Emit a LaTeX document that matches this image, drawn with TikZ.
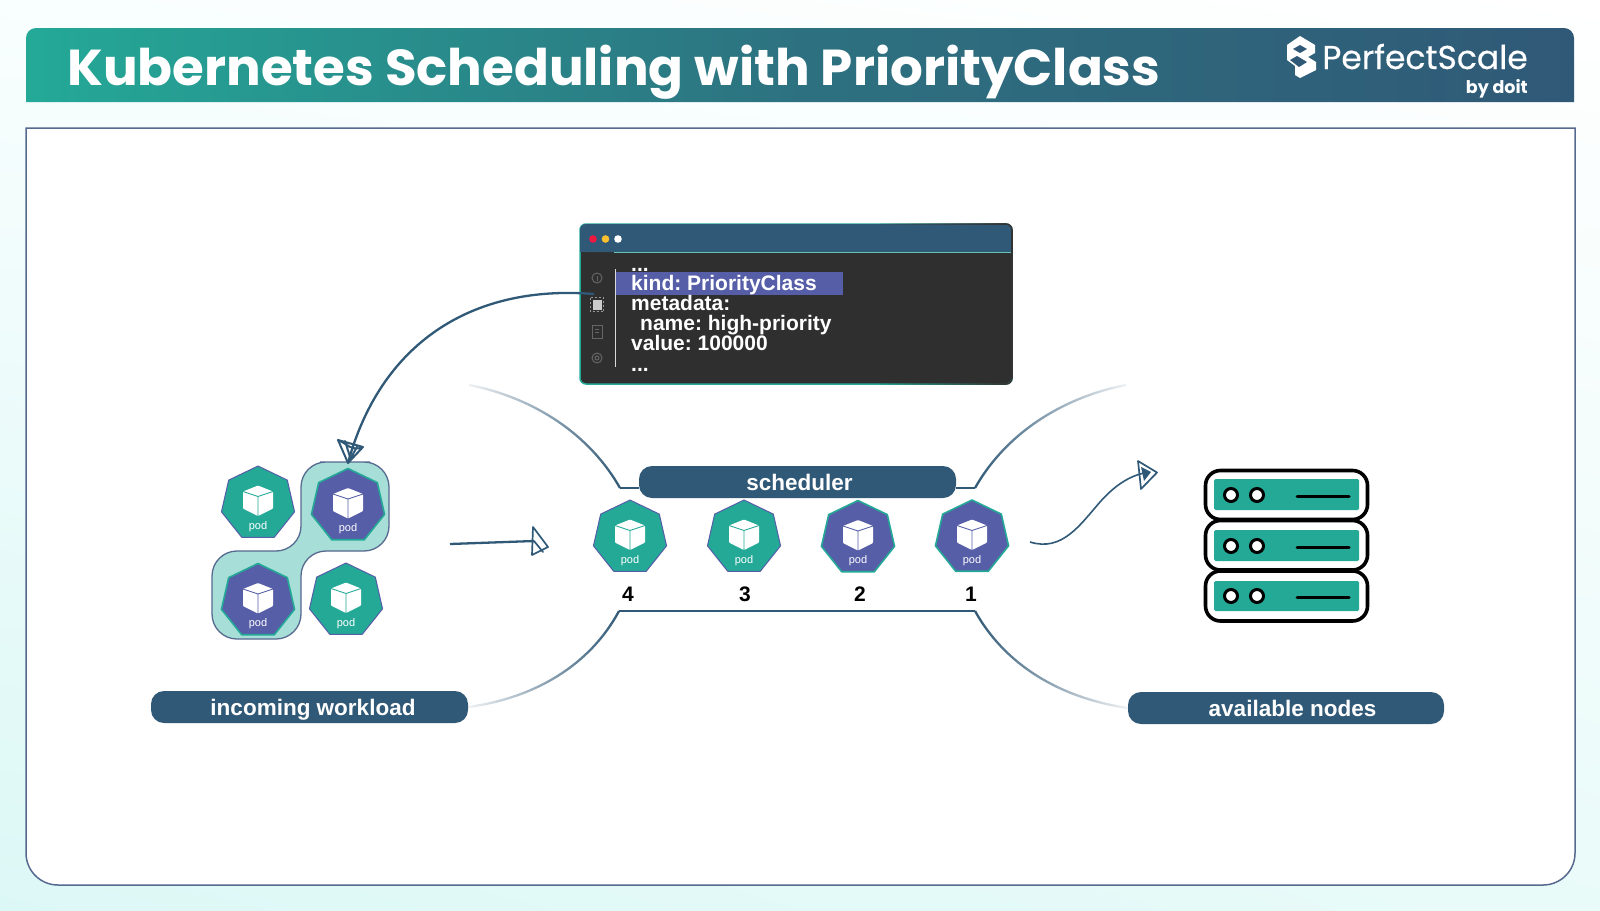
\documentclass[tikz,border=0pt]{standalone}
\usepackage{fontspec}
\usetikzlibrary{shapes.geometric,fadings,shadings}
\setmainfont{Liberation Sans}
\newfontfamily\titlef{Poppins}
\newfontfamily\logof[FakeBold=0.4]{Poppins}
\definecolor{navy}{HTML}{305977}
\definecolor{tealc}{HTML}{24A997}
\definecolor{purp}{HTML}{565EA8}
\definecolor{panelb}{HTML}{56698F}
\definecolor{blob}{HTML}{A7DED7}
\definecolor{codebg}{HTML}{2F2F2F}
\definecolor{icong}{HTML}{666666}
\definecolor{bgul}{HTML}{F9FEFE}
\definecolor{bgll}{HTML}{DCF8F6}
\definecolor{bglr}{HTML}{E9FBF9}
\definecolor{hdrm}{HTML}{2D7180}
\definecolor{redd}{HTML}{F0183F}
\definecolor{yell}{HTML}{FBC02D}
\tikzfading[name=fadel, left color=transparent!93, right color=transparent!0]
\tikzfading[name=fader, left color=transparent!0, right color=transparent!93]
\tikzset{
  podt/.style={regular polygon, regular polygon sides=7, minimum size=75pt, inner sep=0pt, outer sep=0pt, fill=tealc, draw=purp, line width=1pt, line join=round},
  podp/.style={regular polygon, regular polygon sides=7, minimum size=75pt, inner sep=0pt, outer sep=0pt, fill=purp, draw=tealc, line width=1.6pt, line join=round},
  podtxt/.style={font=\fontsize{11}{11}\selectfont, text=white, inner sep=0pt},
  pill/.style={rectangle, rounded corners=13pt, fill=navy, text=white, inner sep=0pt, minimum height=32pt, text height=20pt, text depth=4pt, font=\fontsize{22.5}{24}\selectfont\bfseries},
  numb/.style={font=\fontsize{21}{21}\selectfont\bfseries, text=black, inner sep=0pt},
  codet/.style={anchor=base west, inner sep=0pt, text=white, font=\fontsize{21}{21}\selectfont\bfseries\frenchspacing},
  wire/.style={draw=navy, line width=2.3pt},
  sketch/.style={draw=navy, line width=1.7pt, line join=round, line cap=round},
  srv/.style={draw=black, line width=3.6pt, rounded corners=15pt, outer sep=0pt},
  sico/.style={draw=icong, line width=1pt}
}
\newcommand{\podicon}[5]{% name x y style colour
  \node[#4] (#1) at (#2,#3) {};
  \begin{scope}[shift={(#2,#3)}]
    \fill[white,rounded corners=.8pt] (0,-18)--(15,-12)--(15,5)--(0,12.5)--(-15,5)--(-15,-12)--cycle;
    \draw[#5,line width=.9pt] (-15,-12)--(0,-7)--(15,-12) (0,-7)--(0,12.5);
  \end{scope}
  \node[podtxt] (#1t) at (#2,#3+23) {pod};
}
\begin{document}
\begin{tikzpicture}[x=1pt,y=-1pt]
\useasboundingbox (0,0) rectangle (1600,910);
\shade[upper left=bgul, upper right=white, lower left=bgll, lower right=bglr] (0,0) rectangle (1600,910);

% header
\shade[left color=tealc, right color=navy, middle color=hdrm]
  (26,102) -- (26,38) .. controls (26,32.5) and (30.5,28) .. (36,28) -- (1564,28) .. controls (1569.5,28) and (1574,32.5) .. (1574,38) -- (1574,102) -- cycle;
\node[anchor=base west, inner sep=0pt, text=white, font=\titlef\fontsize{50.5}{52}\selectfont\bfseries] (title) at (67,85) {\scalebox{1.019}[1]{Kubernetes Scheduling with PriorityClass}};

% logo
\fill[white,line join=round] (1300,36) -- (1315,45) -- (1315,53) -- (1308,57) -- (1316,62) -- (1316,70) -- (1300,78) -- (1295,75) -- (1295,66) -- (1287,60) -- (1287,45) -- cycle;
\fill[navy] (1293,49) -- (1300,45) -- (1307,49) -- (1300,53) -- cycle;
\fill[navy] (1290,60) -- (1297,56) -- (1307,62) -- (1299,67) -- cycle;
\node[anchor=base east, inner sep=0pt, text=white, font=\logof\fontsize{33}{33}\selectfont] (ps) at (1528,69) {PerfectScale};
\node[anchor=base east, inner sep=0pt, text=white, font=\titlef\fontsize{17.5}{18}\selectfont\bfseries] (byd) at (1528,93) {by doit};

% panel
\draw[fill=white, draw=panelb, line width=1.5pt] (26,128) -- (1575,128) -- (1575,853) .. controls (1575,870.7) and (1560.7,885) .. (1543,885) -- (58,885) .. controls (40.3,885) and (26,870.7) .. (26,853) -- cycle;

% frame lines around scheduler
\node[pill, minimum width=317pt] (sched) at (797.5,482) {\hspace*{4pt}scheduler};
\node[pill, minimum width=317pt] (incoming) at (309.5,707) {\hspace*{7pt}incoming workload};
\node[pill, minimum width=316pt] (avail) at (1286,708) {\hspace*{13pt}available nodes};
\coordinate (tl) at (620,488);
\coordinate (tr) at (975,488);
\coordinate (bl) at (619,611);
\coordinate (br) at (975,611);
\coordinate (tlo) at (469,385);
\coordinate (tro) at (1126,385);
\draw[wire] (tl) -- (sched.west |- tl);
\draw[wire] (tr) -- (sched.east |- tr);
\draw[wire] (bl) -- (br);
\draw[wire, path fading=fadel] (tlo) .. controls (535,398) and (590,435) .. (tl);
\draw[wire, path fading=fader] (tr) .. controls (1005,435) and (1060,398) .. (tro);
\draw[wire, path fading=fadel] (incoming.east) .. controls (535,698) and (590,665) .. (bl);
\draw[wire, path fading=fader] (br) .. controls (1005,665) and (1060,698) .. (avail.west);

% incoming workload group
\draw[fill=blob, draw=panelb, line width=1.3pt, rounded corners=25pt] (345,462) -- (389,462) -- (389,551) -- (301,551) -- (301,639) -- (212,639) -- (212,551) -- (301,551) -- (301,462) -- cycle;
\podicon{pa}{258}{503.5}{podt}{tealc}
\podicon{pb}{348}{506}{podp}{purp}
\podicon{pc}{258}{601}{podp}{purp}
\podicon{pd}{346}{600.5}{podt}{tealc}

% queue
\podicon{q4}{630}{537.5}{podt}{tealc}
\podicon{q3}{744}{537.5}{podt}{tealc}
\podicon{q2}{858}{538}{podp}{purp}
\podicon{q1}{972}{537.5}{podp}{purp}
\node[numb] (n4) at (628,594) {4};
\node[numb] (n3) at (745,594) {3};
\node[numb] (n2) at (860,594) {2};
\node[numb] (n1) at (971,594) {1};

% code window
\node[rectangle, rounded corners=6pt, fill=codebg, draw=tealc, line width=1.5pt, minimum width=432pt, minimum height=160pt, inner sep=0pt] (win) at (796,304) {};
\fill[navy, rounded corners=6pt] (580,224) rectangle (1012,252);
\fill[navy] (580,240) rectangle (1012,252);
\draw[black!80, line width=1.6pt, rounded corners=6pt, path fading=fadel] (880,224) -- (1012,224) -- (1012,384) -- (880,384);
\draw[tealc!70!white,line width=1.5pt] (614,252.5) -- (1011,252.5);
\fill[redd] (593,239) circle (3.8pt);
\fill[yell] (605.5,239) circle (3.8pt);
\fill[white] (618,239) circle (3.8pt);
\fill[purp] (616,272) rectangle (843,295);
\draw[white!85!black,line width=1pt] (615.5,269) -- (615.5,367);
\node[codet] (c0) at (631,271) {...};
\node[codet] (c1) at (631,290) {kind: PriorityClass};
\node[codet] (c2) at (631,310) {metadata:};
\node[codet] (c3) at (640,330) {name: high-priority};
\node[codet] (c4) at (631,350) {value: 100000};
\node[codet] (c5) at (631,371) {...};
% side icons
\draw[sico] (597,278) circle (5pt);
\draw[sico] (597,276) -- (597,281);
\fill[white!80!black] (592.5,299.5) rectangle (601.5,309.5);
\draw[white!60!black,line width=1pt,dash pattern=on 2pt off 2pt] (590.5,297.5) rectangle (603.5,311.5);
\draw[sico] (592,325) rectangle (602,338);
\draw[sico] (595,329) -- (599,329) (595,332) -- (599,332);
\draw[sico] (597,358) circle (5pt);
\draw[sico] (597,358) circle (2pt);

% arrows
\coordinate (a1s) at (594,294);
\coordinate (a1e) at (348,463);
\draw[wire] (a1s) .. controls (470,284) and (380,345) .. (a1e);
\draw[sketch,line width=2pt] (338,440) -- (363,447) -- (a1e) -- cycle (338,440) .. controls (346,443) and (352,452) .. (363,447) (345,441) -- (351,460) (357,447) -- (349,461);

\coordinate (a2s) at (450,544);
\coordinate (a2e) at (548,547);
\draw[wire] (a2s) -- (534,541);
\draw[sketch] (533,527) -- (a2e) -- (532,555) -- cycle (534,541) -- (543,552);

\coordinate (a3s) at (1030,542);
\coordinate (a3e) at (1157,472.5);
\draw[draw=navy,line width=1.6pt] (a3s) .. controls (1062,552) and (1080,525) .. (1100,502) .. controls (1115,485) and (1130,476) .. (1144,473);
\fill[navy] (1141,467) -- (1151,472) -- (1144,481) -- cycle;
\draw[sketch] (1138,461) -- (a3e) -- (1141,489) -- cycle;

% servers
\foreach \nm/\ya/\yb/\ti/\tb/\cy/\ly in {sa/470.5/519.5/479/510/495/496.5, sb/520.5/570/530/561/546/547, sc/571/621/581/611/596/597}{
  \fill[tealc, rounded corners=1.5pt] (1214,\ti) rectangle (1359,\tb);
  \draw[black,line width=3pt,line cap=round] (1297,\ly) -- (1349,\ly);
  \draw[black,fill=white,line width=3pt] (1231,\cy) circle (6.5pt);
  \draw[black,fill=white,line width=3pt] (1257,\cy) circle (6.5pt);
  \pgfmathsetlengthmacro{\hh}{\yb-\ya}
  \node[srv, inner sep=0pt, minimum width=162pt, minimum height=\hh, anchor=north west] (\nm) at (1205.5,\ya) {};
}
\end{tikzpicture}
\end{document}
